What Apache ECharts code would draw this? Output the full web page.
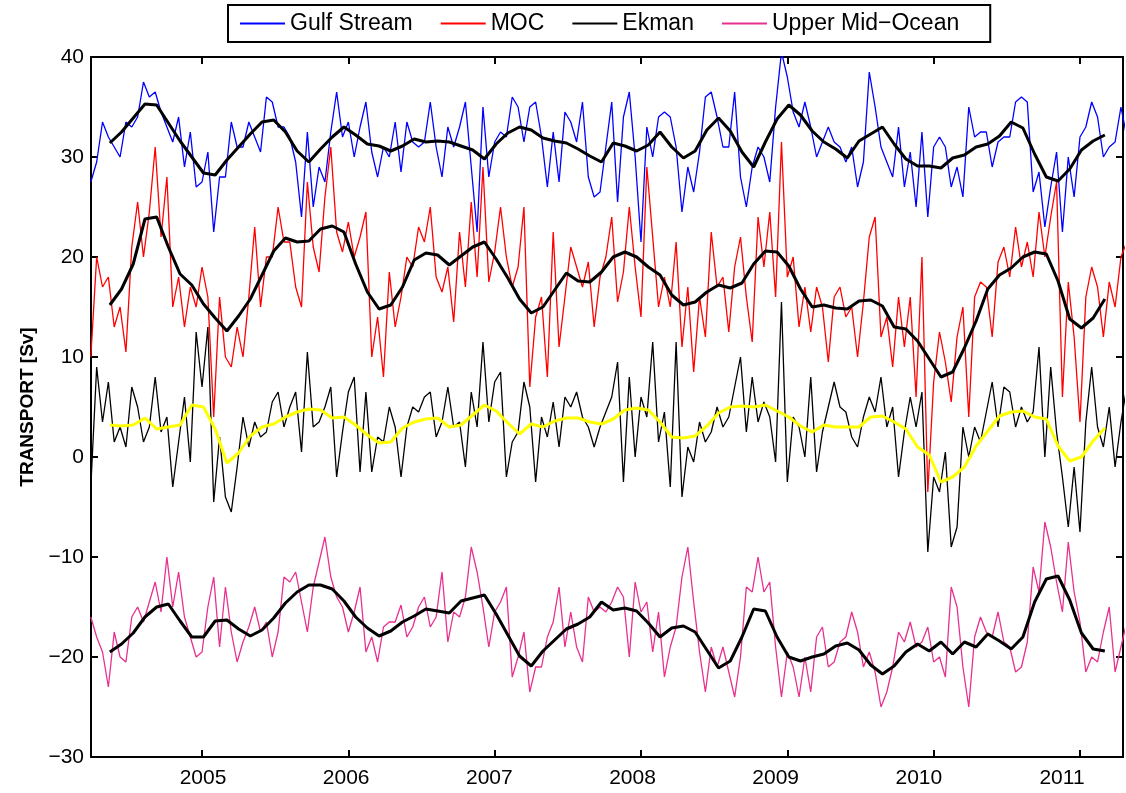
<!DOCTYPE html>
<html>
<head>
<meta charset="utf-8">
<script src="https://cdn.jsdelivr.net/npm/echarts@6/dist/echarts.min.js"></script>
<style>
html,body{margin:0;padding:0;background:#fff;}
#chart{width:1126px;height:793px;}
</style>
</head>
<body>
<div id="chart"></div>
<script>
// Sampling of the series (decimal years)
const rawStart = 2004.24, rawStep = 0.04;
const smoothStart = 2004.37, smoothStep = 0.08;
const yearTicks = [2005, 2006, 2007, 2008, 2009, 2010, 2011];
const seriesNames = ['Gulf Stream', 'MOC', 'Ekman', 'Upper Mid\u2212Ocean'];

const gulfStream = [
27.5,29.5,33.5,32,31,30,33.5,33,34,37.5,
36,36.5,34.5,33,31.5,34,29,32.5,27,27.5,
30.5,22.5,28,28,33.5,31,31,33.5,32,30.5,
36,35.5,33,33,32,29.5,24,32.5,25,29,
27.5,32.5,36.5,32,33.5,30,33,35.5,30.5,28,
31,30,33.5,28.5,33.5,31.5,31,31.5,35.5,31,
28,33,31,33,35.5,29,22.5,35,28,31.5,
32.5,32,36,35,31.5,35,35.5,32,27,32.5,
27.5,34.5,33.5,31.5,35.5,28,26,26.5,31,35.5,
25.5,34,36.5,30,21.5,33,30,34,34.5,34,
31,24.5,29,26.5,30.5,36,36.5,34,31,31,
36.5,28,25,29,31,30,27.5,35,40.5,38,
34.5,33,35.5,33,30,31.5,33,31.5,31,29.5,
31,27,29.5,38.5,35,31,29.5,28,33,27,
30.5,25,32.5,24,31,32,31,27,29,26,
35,32,32.5,32.5,29,31.5,32,32,35.5,36,
35.5,26.5,28.5,23,27,30.5,22.5,30,26,32,
33,35.5,34,30,31,31.5,35,32];

const moc = [
10,20,17,18,13,15,10.5,21,25.5,20,
24.5,31,22,28,15,18,13,17,15,19,
16,4,16,10,9,13,10,16,23,15,
20,20,25,21.5,21.5,17,15,27.5,21,18.5,
26,31,22.5,20.5,23.5,20,22,24.5,10,14,
8,18.5,13,16,20,19,23,21.5,25,18,
16.5,19,13.5,22.5,17,25.5,18,29,17.5,20.5,
25,20,17,19,25,7,14,16,8,22.5,
11,16,21,19,17,19.5,13,18,20,24,
15.5,18.5,25,19,14,29,22,15,18,15,
21.5,11,17,8.5,16,12,22.5,17,18,12.5,
19,22,16,11.5,24,19,24.5,16,31.5,18,
20,13,17,12.5,17,15,9.5,16,17,14,
15,10,15.5,22,24,12,14,9,16,11,
16,6,20,-3.5,7.5,12.5,9.5,5.5,12,15,
4,16,17.5,17,12,19.5,21,18,23,19,
21.5,18,24.5,20,24,27.5,6,17.5,12,3.5,
16,19,17,12,17.5,15,20,21.5];

const ekman = [
-3,9,3.5,7.5,1.5,3,1,7,5,1.5,
3,8,2.5,4,-3,1.5,6,-0.5,12.5,7,
13,-4.5,2,-4,-5.5,-1,4,1,3.5,2,
2.5,5.5,6.5,3,5,6.5,0.5,10.5,3,3.5,
5,7,-2,2.5,6.5,8,-1.5,6.5,-1.5,2,
1.5,5,3,-2,3,5,4.5,6,6.5,2,
3.5,7,3,3.5,-1,6.5,3,11.5,3.5,7.5,
8.5,-2,1.5,2.5,7.5,5,-2.5,4,2,5.5,
1,6,5,6.5,4,3,1,3,4.5,6,
9.5,-2.5,8,0,6,4,11.5,1.5,4.5,-3,
11.5,-4,1,-0.5,3.5,1.5,2.5,5,3,4,
7,10,2.5,8,3.5,5.5,4,-0.5,15.5,-2.5,
4,3,0,8,-1.5,2.5,5,7.5,5,4.5,
2,1,4,6,4.5,8,3,5,-2,2.5,
6,3,6.5,-9.5,-2,-3.5,0.5,-9,-7,3,
0,3,1.5,4.5,7.5,3,7,6.5,3,5,
3.5,4.5,11,0,9,2.5,-2,-7,-1,-7.5,
3.5,9,3,1,5,-1,3.5,7];

const upperMidOcean = [
-16,-18,-19.5,-23,-17.5,-20,-20.5,-16,-15,-16.5,
-14.5,-12.5,-15.5,-10,-15,-11.5,-16,-18,-20,-19.5,
-15,-12,-19,-13,-17.5,-20.5,-18.5,-17,-15,-17.5,
-16.5,-20,-17.5,-12,-12.5,-11.5,-14.5,-17.5,-13,-10.5,
-8,-12,-14,-15,-17.5,-15.5,-13,-19.5,-18,-20.5,
-17,-16.5,-16.5,-14.8,-18,-17,-15,-14,-17,-16,
-11.5,-18.5,-15.5,-16,-14,-9,-11.5,-15,-19,-15.5,
-14.5,-13,-22,-20,-17.5,-23.5,-21,-21,-18,-16.5,
-13,-19,-15.5,-19,-20.5,-14,-15.5,-15,-15.5,-14.5,
-13,-14,-20,-12.5,-15.5,-14.5,-19.5,-15.5,-22,-19,
-17,-12,-9,-14.5,-19.5,-23.5,-19,-21,-19,-21.5,
-24,-20,-13,-13.5,-10,-13.5,-12.5,-19,-24,-19.5,
-21,-24,-20,-23.5,-18,-17,-21,-20.5,-18.5,-18,
-15.5,-17.5,-21,-19.5,-21.5,-25,-23.5,-21,-17.5,-18.5,
-16.5,-19,-18.5,-17,-20.5,-20,-22,-13,-15,-21,
-25,-18,-16,-17.5,-18,-15.5,-18.5,-19,-21.5,-21,
-18.5,-11,-13.5,-6.5,-9,-12.5,-15.5,-8.5,-13.5,-16.5,
-21.5,-20,-20.5,-17.5,-15,-21.5,-19,-16.5];

const gulfStreamSmooth = [
31.4,32.5,33.9,35.3,35.2,33.4,31.6,30,28.4,28.2,
29.7,31,32.3,33.5,33.7,32.5,30.6,29.5,30.8,32,
33,32.2,31.3,31.1,30.6,31.1,31.8,31.5,31.6,31.5,
31.1,30.7,29.8,31.3,32.4,33,32.7,31.9,31.6,31.4,
30.8,30.1,29.5,31.4,31.1,30.6,31.2,32.5,31,29.9,
30.6,32.7,33.9,32.6,30.5,29,31.5,33.8,35.2,34.2,
32.6,31.5,30.8,29.9,31.6,32.3,33,31.3,29.8,29.1,
29.1,28.9,29.9,30.2,31,31.3,32.1,33.5,32.9,30.3,
28,27.6,28.8,30.7,31.6,32.2];

const mocSmooth = [
15.2,16.8,19.3,23.8,24,21,18.3,17.2,15.3,13.9,
12.6,14.1,15.8,18.2,20.6,21.9,21.5,21.6,22.8,23.1,
22.5,19.3,16.5,14.8,15.2,17,19.7,20.4,20.2,19.2,
20.1,21,21.5,19.8,17.9,15.8,14.4,15,16.7,18.4,
17.6,17.5,18.5,20,20.5,20,19,18.2,16.2,15.2,
15.5,16.5,17.2,16.9,17.4,19.3,20.6,20.5,19.1,16.8,
15,15.2,14.9,14.8,15.6,15.7,15.1,13,12.8,11.6,
9.8,8,8.5,10.9,13.6,16.8,18.2,18.9,20,20.5,
20.3,17.6,13.8,12.9,13.9,15.8];

const ekmanSmooth = [
3.2,3.1,3.2,3.9,2.8,3,3.2,5.2,5,2.8,
-0.6,0.4,2.1,3,3.3,4,4.5,4.8,4.7,3.9,
4,3.2,2.2,1.4,1.5,2.9,3.5,3.8,3.9,3,
3.2,4.2,5.2,4.6,3.4,2.3,3.3,3,3.6,3.9,
3.9,3.5,3.3,3.8,4.7,4.9,4.7,3.5,2,1.9,
2.1,3.1,4.4,5,5.1,5,5.2,4.6,4,3.1,
2.5,3.2,3,3,3,4,4.1,3.5,2.8,1,
0.2,-2.5,-2,-1,1.1,2.6,4.1,4.5,4.6,4,
3.8,1.1,-0.4,0,1.6,2.9];

const upperMidOceanSmooth = [
-19.5,-18.7,-17.6,-16,-15,-14.7,-16.4,-18,-18,-16.4,
-16.3,-17.2,-17.9,-17.3,-16.1,-14.6,-13.5,-12.8,-12.8,-13.2,
-14.4,-16,-17.1,-17.9,-17.4,-16.5,-15.9,-15.2,-15.4,-15.6,
-14.4,-14.1,-13.8,-15.7,-17.8,-19.9,-20.9,-19.4,-18.3,-17.2,
-16.7,-16,-14.5,-15.3,-15.1,-15.4,-16.6,-18,-17.1,-16.9,
-17.5,-19.3,-21.1,-20.4,-18,-15.2,-15.4,-18,-20,-20.4,
-20,-19.7,-18.9,-18.6,-19.3,-20.8,-21.7,-20.9,-19.5,-18.7,
-19.4,-18.5,-19.7,-18.5,-19,-17.7,-18.4,-19.2,-18,-14.5,
-12.2,-11.9,-14.3,-17.6,-19.2,-19.4];

function pairs(arr, start, step) {
  return arr.map((v, i) => [Math.round((start + i * step) * 10000) / 10000, v]);
}
const FONT = 'Liberation Sans';
const minus = v => (v < 0 ? '\u2212' + Math.abs(v) : String(v));

const chart = echarts.init(document.getElementById('chart'), null, {renderer: 'canvas'});

function rawLine(name, data, color) {
  return {name, type: 'line', data: pairs(data, rawStart, rawStep), xAxisIndex: 0, yAxisIndex: 0,
    symbol: 'none', clip: true, animation: false, color,
    lineStyle: {color, width: 1.3}, z: 2};
}
function smoothLine(name, data, color) {
  return {name, type: 'line', data: pairs(data, smoothStart, smoothStep), xAxisIndex: 0, yAxisIndex: 0,
    symbol: 'none', clip: true, animation: false, color,
    lineStyle: {color, width: 3}, z: 3};
}

const option = {
  backgroundColor: '#fff',
  animation: false,
  textStyle: {fontFamily: FONT},
  grid: {left: 91, right: 3, top: 57, bottom: 36, containLabel: false},
  legend: {
    data: seriesNames,
    left: 228, top: 5,
    icon: 'rect', itemWidth: 45, itemHeight: 2, itemGap: 28,
    borderColor: '#000', borderWidth: 2, padding: [7, 31, 7, 12],
    backgroundColor: '#fff',
    textStyle: {fontFamily: FONT, fontSize: 23, color: '#000'}
  },
  xAxis: [
    {type: 'value', position: 'bottom', min: 2004.2413, max: 2011.294,
     axisLine: {show: true, onZero: false, lineStyle: {color: '#000', width: 2}},
     axisTick: {show: true, inside: true, length: 7, lineStyle: {color: '#000', width: 2}, customValues: yearTicks},
     axisLabel: {show: false}, splitLine: {show: false}},
    {type: 'value', position: 'top', min: 2004.2413, max: 2011.294,
     axisLine: {show: true, onZero: false, lineStyle: {color: '#000', width: 2}},
     axisTick: {show: true, inside: true, length: 7, lineStyle: {color: '#000', width: 2}, customValues: yearTicks},
     axisLabel: {show: false}, splitLine: {show: false}},
    {type: 'value', position: 'bottom', min: 2004.2177, max: 2011.426,
     axisLine: {show: false}, axisTick: {show: false}, splitLine: {show: false},
     axisLabel: {show: true, customValues: yearTicks, margin: 11, color: '#000', fontSize: 21, fontFamily: FONT,
       formatter: v => String(Math.round(v))}}
  ],
  yAxis: [
    {type: 'value', position: 'left', min: -30, max: 40, interval: 10,
     name: 'TRANSPORT [Sv]', nameLocation: 'middle', nameRotate: 90, nameGap: 54,
     nameTextStyle: {fontFamily: FONT, fontWeight: 'bold', fontSize: 19, color: '#000'},
     axisLine: {show: true, onZero: false, lineStyle: {color: '#000', width: 2}},
     axisTick: {show: true, inside: true, length: 7, lineStyle: {color: '#000', width: 2}},
     axisLabel: {color: '#000', fontSize: 21, fontFamily: FONT, margin: 7, formatter: minus},
     splitLine: {show: false}},
    {type: 'value', position: 'right', min: -30, max: 40, interval: 10,
     axisLine: {show: true, onZero: false, lineStyle: {color: '#000', width: 2}},
     axisTick: {show: true, inside: true, length: 7, lineStyle: {color: '#000', width: 2}},
     axisLabel: {show: false}, splitLine: {show: false}}
  ],
  series: [
    rawLine(seriesNames[0], gulfStream, '#0000ff'),
    rawLine(seriesNames[1], moc, '#ff0000'),
    rawLine(seriesNames[2], ekman, '#000000'),
    rawLine(seriesNames[3], upperMidOcean, '#e8308e'),
    smoothLine('Gulf Stream (smoothed)', gulfStreamSmooth, '#000000'),
    smoothLine('MOC (smoothed)', mocSmooth, '#000000'),
    smoothLine('Ekman (smoothed)', ekmanSmooth, '#ffff00'),
    smoothLine('Upper Mid\u2212Ocean (smoothed)', upperMidOceanSmooth, '#000000')
  ]
};
chart.setOption(option);
</script>
</body>
</html>
